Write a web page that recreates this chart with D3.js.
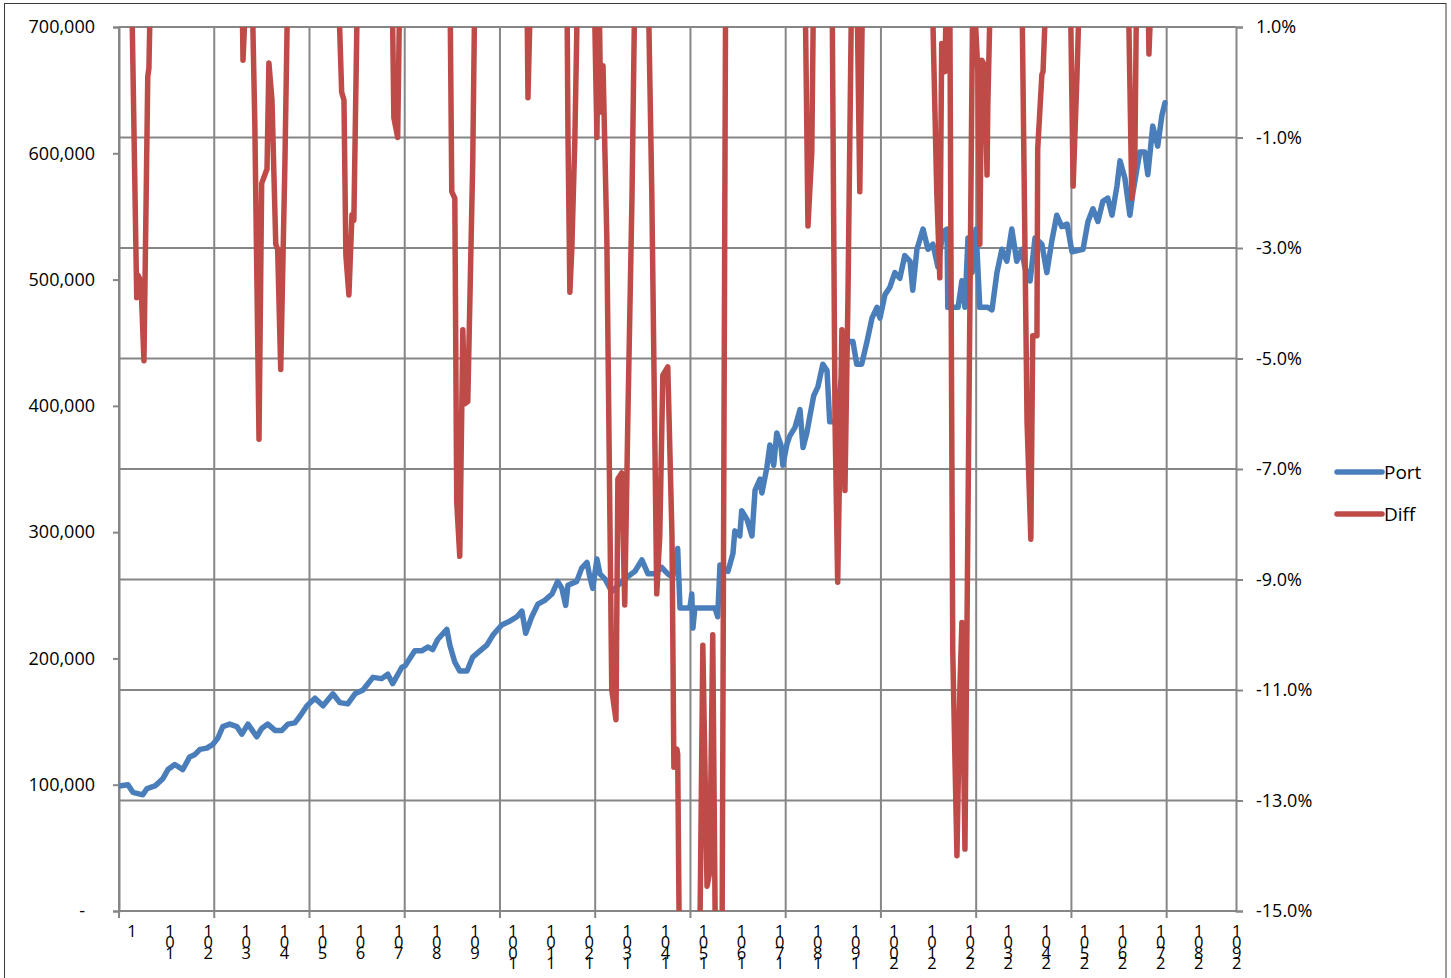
<!DOCTYPE html>
<html lang="en">
<head>
    <title>Port vs Diff</title>
    <style>
        body, html { margin: 0; height: 100%; overflow: hidden; background: #fff; }
        svg { display: block; }
        text { font-family: "Open Sans", sans-serif; fill: #000; }
    </style>
    <script src="https://d3js.org/d3.v7.min.js"></script>
</head>
<body>
    <svg></svg>

    <script>
        // ---- data ----
        const nCategories = 2932;
        const xLabels = [1, 101, 201, 301, 401, 501, 601, 701, 801, 901, 1001, 1101, 1201, 1301, 1401,
                         1501, 1601, 1701, 1801, 1901, 2001, 2101, 2201, 2301, 2401, 2501, 2601, 2701, 2801, 2901];
        const xGridAt = [0, 250, 500, 750, 1000, 1250, 1500, 1750, 2000, 2250, 2500, 2750];
        const leftTicks = [0, 100000, 200000, 300000, 400000, 500000, 600000, 700000];
        const rightTicks = [1, -1, -3, -5, -7, -9, -11, -13, -15];
        const seriesNames = ["Port", "Diff"];

        // Port: [category index, value]
        const port = [
            [1, 99000], [24, 100000], [37, 94000], [63, 92000], [74, 97000], [95, 99000], [116, 105000],
            [129, 112000], [147, 116000], [168, 112000], [186, 122000], [200, 124000], [213, 128000],
            [231, 129000], [247, 132000], [260, 137000], [273, 146000], [291, 148000], [310, 146000],
            [323, 140000], [339, 148000], [362, 138000], [375, 144500], [391, 148000], [410, 143000],
            [428, 143000], [444, 148000], [462, 149000], [475, 154000], [494, 162500], [515, 168500],
            [536, 162500], [562, 172000], [580, 165000], [601, 164000], [620, 172000], [641, 175000],
            [667, 185000], [690, 184000], [706, 187500], [719, 180000], [743, 193000], [751, 194000],
            [777, 206000], [795, 206000], [811, 209000], [824, 207000], [837, 215000], [861, 223000],
            [869, 210500], [882, 197000], [895, 190000], [914, 190000], [929, 201000], [948, 206000],
            [966, 210500], [982, 218500], [1005, 226500], [1026, 229500], [1045, 233000], [1058, 237500],
            [1068, 220000], [1084, 233000], [1100, 243000], [1118, 246000], [1137, 251000], [1152, 261000],
            [1163, 255500], [1173, 242000], [1179, 258000], [1202, 261000], [1215, 271500], [1229, 276000],
            [1236, 265000], [1244, 255500], [1255, 278700], [1263, 267000], [1276, 263000], [1294, 253000],
            [1328, 263000], [1355, 269000], [1373, 278000], [1389, 267000], [1407, 267000], [1425, 272000],
            [1441, 267000], [1454, 264500], [1467, 287000], [1473, 240000], [1499, 240000], [1504, 251000],
            [1507, 224000], [1512, 240000], [1565, 240000], [1572, 233000], [1578, 274000], [1599, 269000],
            [1612, 283000], [1617, 301000], [1630, 297000], [1635, 317000], [1649, 310000], [1662, 297000],
            [1670, 333000], [1683, 342000], [1688, 331000], [1701, 351000], [1709, 369000], [1719, 353000],
            [1727, 378500], [1738, 369000], [1743, 353000], [1754, 370000], [1761, 376000], [1775, 383000],
            [1788, 397000], [1796, 367000], [1806, 378500], [1814, 392000], [1824, 408000], [1835, 415000],
            [1848, 433000], [1859, 428000], [1866, 387500], [1880, 387500], [1898, 423600], [1914, 451000],
            [1927, 451000], [1937, 433000], [1950, 433000], [1964, 451000], [1977, 469500], [1990, 478000],
            [1998, 469500], [2011, 488000], [2024, 494000], [2037, 505500], [2050, 501000], [2063, 519000],
            [2077, 514500], [2084, 491500], [2095, 524000], [2111, 540000], [2124, 524000], [2137, 528000],
            [2150, 510000], [2163, 537600], [2174, 540000], [2176, 478000], [2203, 478000], [2213, 499000],
            [2221, 478000], [2229, 533000], [2240, 505500], [2250, 540000], [2260, 478000], [2281, 478000],
            [2292, 476000], [2305, 505500], [2318, 524000], [2331, 514500], [2344, 540000], [2357, 514500],
            [2370, 524000], [2378, 510000], [2392, 499000], [2405, 533000], [2423, 528000], [2436, 505500],
            [2449, 530500], [2462, 551000], [2475, 542000], [2489, 544000], [2502, 522000], [2531, 524000],
            [2544, 546000], [2557, 556000], [2570, 546000], [2583, 562000], [2596, 564500], [2607, 551000],
            [2620, 574000], [2628, 594000], [2641, 580000], [2654, 551000], [2662, 569000], [2680, 601000],
            [2693, 601000], [2701, 583000], [2714, 621500], [2727, 605700], [2738, 630000], [2746, 640000]
        ];

        // Diff (%): [category index, value]; values above 1% / below -15% run off the plot
        const diff = [
            [1, 2], [33, 2], [47, -3.9], [50, -3.49], [58, -3.6], [66, -5.04], [76, 0.1], [79, 0.25], [84, 2],
            [323, 2], [326, 0.4], [336, 2],
            [349, 2], [357, -0.74], [368, -6.46], [375, -1.83], [389, -1.57], [394, 0.35], [402, -0.32],
            [412, -2.93], [417, -3.03], [425, -5.2], [436, -1.46], [444, 2],
            [575, 2], [585, -0.18], [591, -0.32], [596, -3.13], [604, -3.85], [612, -2.4], [617, -2.5], [627, 2],
            [717, 2], [722, -0.64], [732, -1.0], [738, 2],
            [869, 2], [874, -1.98], [882, -2.1], [887, -7.6], [895, -8.58], [903, -4.48], [908, -5.82],
            [916, -5.78], [929, -1.46], [935, 2],
            [1071, 2], [1074, -0.28], [1082, 2],
            [1176, 2], [1179, -0.95], [1184, -3.8], [1189, -3.03], [1197, -1.05], [1205, 2],
            [1247, 2], [1255, -1.0], [1260, 2], [1265, -0.54], [1271, 0.3], [1281, -2.82], [1294, -11.0],
            [1305, -11.54], [1310, -7.18], [1320, -7.07], [1328, -9.46], [1336, -6.15], [1347, -2.1], [1355, 2],
            [1389, 2], [1399, -1.98], [1412, -9.26], [1420, -8.2], [1428, -5.3], [1441, -5.15], [1452, -8.2],
            [1457, -12.4], [1465, -12.07], [1467, -12.16], [1473, -17], [1523, -17], [1533, -10.19],
            [1544, -14.55], [1551, -14.3], [1559, -10.0], [1567, -16.5], [1583, -16.5], [1593, 2],
            [1801, 2], [1809, -2.6], [1819, -1.26], [1824, 2],
            [1872, 2], [1880, -6.14], [1887, -9.05], [1898, -4.48], [1906, -7.39], [1914, -3.85], [1924, 2],
            [1937, 2], [1945, -1.98], [1953, 2],
            [2134, 2], [2147, -1.98], [2155, -3.54], [2160, 0.7], [2168, 0.19], [2174, 2],
            [2181, 2], [2189, -10.3], [2200, -14.0], [2208, -10.9], [2213, -9.78], [2221, -13.88], [2242, 2],
            [2255, 0.19], [2260, -2.93], [2265, 0.4], [2273, 0.3], [2279, -1.68], [2281, -0.43], [2289, 2],
            [2370, 2], [2384, -6.14], [2394, -8.27], [2399, -4.59], [2410, -4.59], [2412, -1.21],
            [2423, 0.14], [2426, 0.19], [2436, 2],
            [2497, 2], [2505, -1.88], [2515, 0.1], [2523, 2],
            [2649, 2], [2659, -2.1], [2667, -1.37], [2672, 2],
            [2701, 2], [2704, 0.51], [2712, 2], [2746, 2]
        ];

        // ---- layout ----
        const width = 1451, height = 978;
        const plot = { left: 119, right: 1236, top: 27, bottom: 911 };
        const gridColor = "#868686";
        const colors = { Port: "#4A7EBB", Diff: "#BE4B48" };

        const svg = d3.select("svg").attr("width", width).attr("height", height);

        // chart border
        svg.append("rect")
            .attr("x", 4.5).attr("y", 3.5)
            .attr("width", 1441.5).attr("height", 990)
            .attr("fill", "#fff")
            .attr("stroke", "#3a3a3a")
            .attr("stroke-width", 1);

        const x = d3.scaleLinear().domain([0.5, nCategories + 0.5]).range([plot.left, plot.right]);
        const yLeft = d3.scaleLinear().domain([0, 700000]).range([plot.bottom, plot.top]);
        const yRight = d3.scaleLinear().domain([-15, 1]).range([plot.bottom, plot.top]);

        // horizontal gridlines (secondary axis ticks)
        svg.append("g").selectAll("line")
            .data(rightTicks)
            .join("line")
            .attr("x1", plot.left).attr("x2", plot.right)
            .attr("y1", d => yRight(d)).attr("y2", d => yRight(d))
            .attr("stroke", gridColor).attr("stroke-width", 2);

        // vertical gridlines + category tick marks
        svg.append("g").selectAll("line")
            .data(xGridAt)
            .join("line")
            .attr("x1", d => x(d + 0.5)).attr("x2", d => x(d + 0.5))
            .attr("y1", plot.top).attr("y2", plot.bottom + 7)
            .attr("stroke", gridColor).attr("stroke-width", 2);

        // left axis
        const leftAxis = svg.append("g")
            .attr("transform", `translate(${plot.left},0)`)
            .call(d3.axisLeft(yLeft)
                .tickValues(leftTicks)
                .tickSize(6)
                .tickPadding(18)
                .tickFormat(d => d === 0 ? "-" : d3.format(",")(d)));
        leftAxis.select(".domain").attr("stroke", gridColor).attr("stroke-width", 2);
        leftAxis.selectAll(".tick line").attr("stroke", gridColor).attr("stroke-width", 2);
        leftAxis.selectAll("text").attr("font-size", 18).attr("font-family", "Open Sans")
            .attr("dx", d => d === 0 ? -10 : 0);

        // right axis
        const rightAxis = svg.append("g")
            .attr("transform", `translate(${plot.right},0)`)
            .call(d3.axisRight(yRight)
                .tickValues(rightTicks)
                .tickSize(7)
                .tickPadding(13)
                .tickFormat(d => d.toFixed(1) + "%"));
        rightAxis.select(".domain").attr("stroke", gridColor).attr("stroke-width", 2);
        rightAxis.selectAll(".tick line").attr("stroke", gridColor).attr("stroke-width", 2);
        rightAxis.selectAll("text").attr("font-size", 18).attr("font-family", "Open Sans");

        // bottom axis line
        svg.append("line")
            .attr("x1", plot.left).attr("x2", plot.right)
            .attr("y1", plot.bottom).attr("y2", plot.bottom)
            .attr("stroke", gridColor).attr("stroke-width", 2);

        // stacked category labels (characters stacked, last digit on top)
        const labels = svg.append("g").selectAll("text")
            .data(xLabels)
            .join("text")
            .attr("font-size", 16.5)
            .attr("text-anchor", "middle");
        labels.each(function (d) {
            const chars = String(d).split("").reverse();
            const t = d3.select(this);
            chars.forEach((c, i) => {
                t.append("tspan")
                    .attr("x", x(d) + 12.8)
                    .attr("y", 937 + i * 10.8)
                    .text(c);
            });
        });

        // series
        svg.append("clipPath").attr("id", "plotClip")
            .append("rect")
            .attr("x", plot.left).attr("y", plot.top)
            .attr("width", plot.right - plot.left).attr("height", plot.bottom - plot.top);

        const linePort = d3.line().x(d => x(d[0])).y(d => yLeft(d[1]));
        const lineDiff = d3.line().x(d => x(d[0])).y(d => yRight(d[1]));

        const series = svg.append("g").attr("clip-path", "url(#plotClip)");
        series.append("path")
            .attr("d", linePort(port))
            .attr("fill", "none")
            .attr("stroke", colors.Port)
            .attr("stroke-width", 5.5)
            .attr("stroke-linejoin", "round")
            .attr("stroke-linecap", "round");
        series.append("path")
            .attr("d", lineDiff(diff))
            .attr("fill", "none")
            .attr("stroke", colors.Diff)
            .attr("stroke-width", 5.5)
            .attr("stroke-linejoin", "round")
            .attr("stroke-linecap", "round");

        // legend
        const legend = svg.append("g").selectAll("g")
            .data(seriesNames)
            .join("g")
            .attr("transform", (d, i) => `translate(1337,${472 + i * 42})`);
        legend.append("line")
            .attr("x1", 0).attr("x2", 45)
            .attr("stroke", d => colors[d])
            .attr("stroke-width", 5.5)
            .attr("stroke-linecap", "round");
        legend.append("text")
            .attr("x", 47)
            .attr("dy", "0.35em")
            .attr("font-size", 19)
            .text(d => d);
    </script>
</body>
</html>
